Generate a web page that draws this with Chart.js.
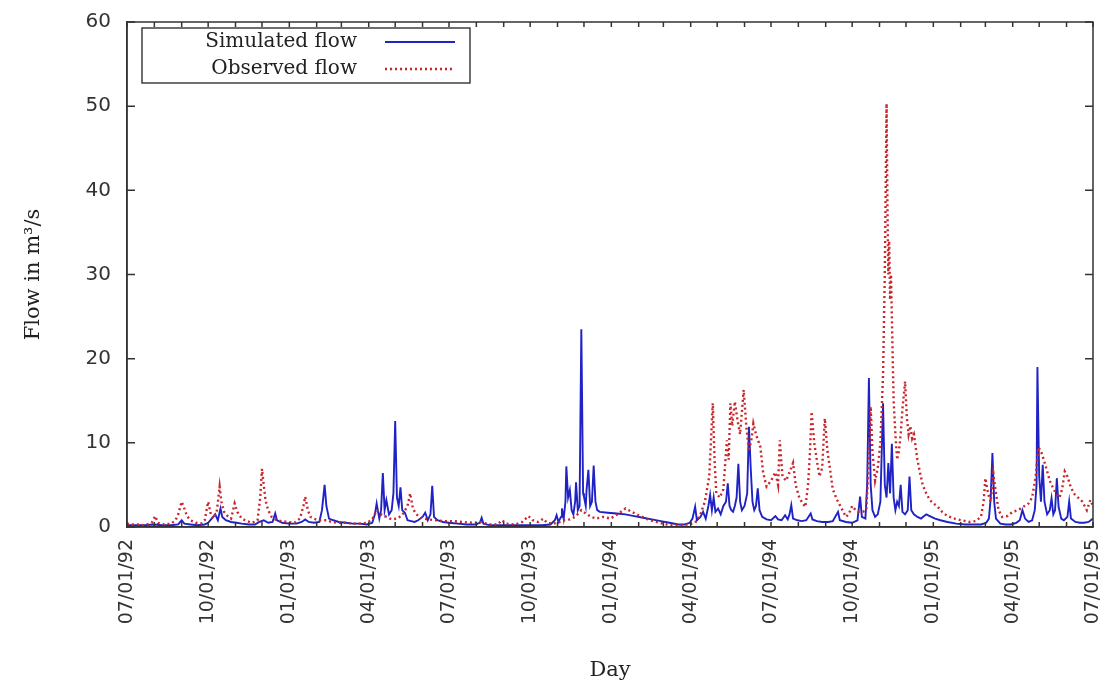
<!DOCTYPE html>
<html>
<head>
<meta charset="utf-8">
<script src="https://cdn.jsdelivr.net/npm/chart.js@4.4.1/dist/chart.umd.min.js"></script>
<style>
  html, body { margin: 0; padding: 0; background: #fff; }
</style>
</head>
<body>
<canvas id="flowChart" width="1101" height="684"></canvas>
<script>
// Quarter tick labels on the day axis
const tickLabels = ["07/01/92", "10/01/92", "01/01/93", "04/01/93", "07/01/93", "10/01/93", "01/01/94",
                    "04/01/94", "07/01/94", "10/01/94", "01/01/95", "04/01/95", "07/01/95"];

// Simulated flow (m3/s), day index counted from 07/01/92
const simDays = [
  0, 10, 20, 30, 40, 50, 58, 62, 65, 72, 80, 88, 92, 96, 100, 103, 106, 108, 112, 118,
  124, 130, 138, 145, 150, 155, 160, 165, 168, 170, 176, 184, 192, 198, 202, 206, 212, 218, 221, 224,
  226, 229, 234, 240, 248, 256, 264, 272, 278, 281, 283, 286, 288, 290, 292, 294, 297, 300, 302, 304,
  306, 308, 310, 312, 315, 318, 322, 326, 330, 335, 338, 341, 344, 346, 348, 352, 358, 365, 375, 385,
  395, 400, 402, 404, 412, 425, 440, 455, 470, 480, 485, 487, 489, 492, 493, 495, 497, 498, 500, 502,
  504, 506, 508, 509, 511, 513, 515, 517, 518, 520, 521, 523, 525, 527, 529, 531, 533, 536, 545, 555,
  565, 575, 585, 595, 605, 615, 625, 632, 638, 641, 644, 646, 650, 653, 656, 659, 661, 663, 665, 667,
  670, 673, 676, 679, 681, 683, 685, 687, 689, 691, 693, 695, 697, 700, 703, 705, 707, 709, 711, 713,
  715, 717, 720, 725, 730, 735, 738, 742, 746, 749, 751, 753, 755, 760, 765, 770, 775, 777, 782, 788,
  795, 800, 806, 808, 815, 822, 828, 831, 833, 837, 839, 841, 843, 845, 848, 851, 854, 857, 859, 861,
  863, 865, 867, 869, 871, 873, 875, 877, 879, 882, 885, 887, 889, 892, 896, 900, 906, 910, 916, 922,
  930, 940, 950, 960, 968, 974, 977, 979, 981, 983, 985, 990, 996, 1002, 1008, 1012, 1015, 1018, 1022, 1026,
  1029, 1031, 1032, 1034, 1036, 1038, 1040, 1043, 1046, 1048, 1050, 1052, 1054, 1056, 1059, 1062, 1066, 1068, 1070, 1075,
  1080, 1085, 1090, 1095
];
const simFlow = [
  0.2, 0.2, 0.2, 0.3, 0.2, 0.2, 0.3, 0.8, 0.4, 0.3, 0.2, 0.3, 0.5, 1.0, 1.5, 0.8, 2.2, 1.2, 0.8, 0.6,
  0.5, 0.4, 0.3, 0.3, 0.6, 0.8, 0.5, 0.6, 1.6, 0.8, 0.5, 0.4, 0.4, 0.6, 0.9, 0.6, 0.5, 0.6, 2.0, 5.0,
  2.5, 1.0, 0.8, 0.6, 0.5, 0.4, 0.4, 0.3, 0.5, 1.5, 2.8, 1.0, 2.0, 6.4, 2.0, 3.2, 1.5, 2.0, 4.0, 12.6,
  3.5, 2.5, 4.7, 2.0, 1.7, 0.8, 0.7, 0.6, 0.8, 1.2, 1.7, 0.8, 1.5, 4.9, 1.2, 0.8, 0.6, 0.5, 0.4, 0.3,
  0.3, 0.5, 1.1, 0.4, 0.2, 0.2, 0.2, 0.2, 0.2, 0.3, 0.8, 1.4, 0.6, 1.2, 2.2, 1.0, 3.0, 7.2, 3.5, 4.4,
  2.0, 1.5, 3.0, 5.3, 2.0, 2.5, 23.5, 4.0, 3.6, 2.5, 4.5, 6.8, 2.5, 3.0, 7.3, 3.0, 2.0, 1.8, 1.7, 1.6,
  1.5, 1.3, 1.1, 0.9, 0.7, 0.5, 0.3, 0.3, 0.5, 1.0, 2.4, 0.8, 1.2, 1.8, 1.0, 2.5, 3.8, 2.0, 3.5, 1.8,
  2.2, 1.5, 2.5, 3.0, 5.2, 2.5, 2.0, 1.8, 2.5, 3.5, 7.5, 3.0, 2.0, 2.5, 4.0, 11.9, 7.0, 3.0, 2.0, 2.5,
  4.6, 2.0, 1.2, 0.9, 0.8, 1.3, 0.9, 0.8, 1.4, 0.9, 1.5, 2.6, 1.0, 0.8, 0.7, 0.8, 1.6, 0.9, 0.7, 0.6,
  0.6, 0.7, 1.8, 0.8, 0.6, 0.5, 0.8, 3.6, 1.2, 1.0, 5.0, 17.7, 5.0, 2.0, 1.2, 1.5, 3.0, 14.7, 5.0, 3.5,
  7.6, 4.0, 9.9, 3.5, 2.0, 3.0, 2.5, 5.0, 1.8, 1.5, 2.0, 6.0, 2.0, 1.5, 1.2, 1.0, 1.5, 1.3, 1.0, 0.8,
  0.6, 0.4, 0.3, 0.3, 0.3, 0.5, 1.0, 3.4, 8.8, 3.0, 1.0, 0.4, 0.3, 0.3, 0.5, 0.8, 2.0, 1.0, 0.6, 0.8,
  2.0, 5.0, 19.0, 6.0, 3.0, 7.4, 3.0, 1.5, 2.0, 3.4, 1.5, 2.0, 5.8, 2.4, 1.0, 0.8, 1.2, 3.0, 1.0, 0.6,
  0.5, 0.5, 0.6, 1.0
];

// Observed flow (m3/s)
const obsDays = [
  0, 5, 12, 20, 28, 32, 35, 42, 50, 55, 58, 62, 65, 68, 72, 78, 84, 88, 92, 95,
  98, 102, 105, 107, 110, 114, 118, 122, 125, 130, 136, 142, 148, 151, 153, 155, 157, 160, 164, 168,
  175, 182, 190, 196, 200, 202, 205, 208, 214, 220, 226, 232, 240, 248, 256, 264, 272, 278, 283, 288,
  294, 300, 306, 312, 318, 321, 324, 328, 335, 342, 350, 360, 370, 380, 392, 402, 410, 420, 425, 430,
  440, 448, 455, 460, 466, 472, 476, 482, 488, 495, 502, 508, 515, 520, 526, 532, 540, 548, 556, 565,
  572, 580, 588, 596, 604, 612, 620, 628, 636, 644, 650, 655, 660, 664, 666, 668, 672, 676, 680, 682,
  684, 686, 689, 692, 695, 699, 702, 705, 708, 710, 713, 718, 721, 725, 730, 735, 738, 740, 743, 747,
  751, 755, 758, 762, 766, 769, 772, 774, 776, 779, 782, 785, 788, 791, 794, 797, 800, 805, 810, 815,
  818, 822, 826, 830, 834, 838, 841, 843, 845, 848, 851, 854, 857, 859, 861, 862, 863, 864, 865, 866,
  867, 868, 869, 871, 873, 875, 877, 879, 882, 884, 886, 888, 890, 892, 894, 896, 899, 902, 906, 910,
  914, 918, 924, 930, 938, 946, 955, 962, 968, 971, 973, 976, 979, 982, 985, 988, 992, 998, 1004, 1010,
  1016, 1022, 1026, 1030, 1033, 1036, 1038, 1042, 1046, 1049, 1053, 1057, 1060, 1063, 1066, 1069, 1073, 1078, 1083, 1088,
  1092, 1095
];
const obsFlow = [
  0.4, 0.3, 0.3, 0.2, 0.5, 1.3, 0.5, 0.3, 0.4, 0.8, 1.5, 3.0, 2.2, 1.3, 0.8, 0.5, 0.4, 0.8, 3.0, 1.5,
  1.0, 2.0, 4.8, 3.0, 1.8, 1.3, 1.0, 2.8, 1.8, 1.0, 0.7, 0.5, 0.8, 3.5, 6.9, 5.0, 3.2, 2.0, 1.2, 0.9,
  0.7, 0.6, 0.5, 1.0, 2.5, 3.6, 2.0, 1.2, 0.9, 0.8, 0.8, 0.6, 0.5, 0.5, 0.4, 0.4, 0.5, 0.9, 2.0, 1.5,
  1.2, 0.9, 1.0, 1.4, 2.5, 4.0, 2.2, 1.5, 1.0, 0.9, 0.8, 0.7, 0.7, 0.6, 0.5, 0.6, 0.3, 0.3, 0.8, 0.4,
  0.3, 0.6, 1.3, 0.8, 0.6, 1.0, 0.5, 0.4, 0.5, 0.8, 0.9, 1.2, 2.0, 1.6, 1.2, 1.0, 1.2, 1.0, 1.5, 2.2,
  1.8, 1.4, 1.0, 0.7, 0.5, 0.3, 0.2, 0.2, 0.3, 0.5, 1.5, 3.0, 6.0, 14.7, 8.0, 4.0, 3.5, 4.5, 10.3, 8.0,
  14.7, 12.0, 14.9, 12.7, 11.0, 16.3, 12.0, 9.0, 10.5, 12.3, 11.0, 9.5, 6.5, 4.8, 5.5, 6.5, 5.0, 10.3, 6.0, 5.5,
  6.5, 7.6, 5.0, 3.5, 2.8, 2.4, 5.0, 8.5, 13.7, 10.0, 7.9, 6.0, 7.0, 12.9, 9.0, 6.8, 4.5, 3.2, 2.2, 1.2,
  1.5, 2.5, 2.0, 1.8, 1.8, 2.0, 8.0, 14.3, 9.0, 5.5, 7.0, 10.0, 18.0, 30.0, 50.3, 38.0, 30.0, 34.0, 27.0, 30.0,
  25.0, 20.0, 15.0, 11.0, 8.0, 9.0, 11.0, 14.0, 17.3, 13.0, 11.0, 12.0, 10.5, 11.0, 9.5, 8.0, 6.4, 5.0, 4.0, 3.2,
  2.8, 2.5, 1.8, 1.3, 1.0, 0.8, 0.6, 0.7, 1.2, 3.0, 5.8, 4.0, 3.0, 6.4, 4.0, 2.0, 1.2, 1.3, 1.8, 2.0,
  2.4, 2.8, 3.5, 6.0, 9.5, 9.0, 8.4, 7.0, 5.5, 4.8, 4.0, 3.5, 4.5, 6.6, 6.0, 5.0, 4.0, 3.5, 3.0, 2.0,
  3.2, 2.5
];

const SIM_COLOR = "#1f22c4";
const OBS_COLOR = "#c8262a";

// day index of a mm/dd/yy label
const startMs = Date.UTC(1992, 6, 1);
const dayOf = (s) => {
    const [m, d, y] = s.split("/").map(Number);
    return (Date.UTC(1900 + y, m - 1, d) - startMs) / 86400000;
};
const tickDays = tickLabels.map(dayOf);
const lastDay = tickDays[tickDays.length - 1];

// first of every month, for the small inner ticks
const monthDays = [];
for (let yr = 1992; yr <= 1995; yr++) {
    for (let mo = 0; mo < 12; mo++) {
        const t = (Date.UTC(yr, mo, 1) - startMs) / 86400000;
        if (t >= 0 && t <= lastDay) monthDays.push(t);
    }
}

// box frame, inward ticks and the boxed legend
const frameAndLegend = {
    id: "frameAndLegend",
    afterDatasetsDraw(chart) {
        const { ctx, chartArea: a, scales: { x, y } } = chart;
        ctx.save();
        ctx.strokeStyle = "#333";
        ctx.lineWidth = 1.5;
        ctx.strokeRect(a.left, a.top, a.right - a.left, a.bottom - a.top);

        ctx.beginPath();
        y.ticks.forEach(t => {
            const py = y.getPixelForValue(t.value);
            ctx.moveTo(a.left, py); ctx.lineTo(a.left + 8, py);
            ctx.moveTo(a.right, py); ctx.lineTo(a.right - 8, py);
        });
        monthDays.forEach(d => {
            const px = x.getPixelForValue(d);
            ctx.moveTo(px, a.bottom); ctx.lineTo(px, a.bottom - 5);
            ctx.moveTo(px, a.top); ctx.lineTo(px, a.top + 5);
        });
        ctx.stroke();

        // legend
        const lx = a.left + 15, ly = a.top + 6, lw = 328, lh = 55;
        ctx.fillStyle = "#fff";
        ctx.fillRect(lx, ly, lw, lh);
        ctx.strokeStyle = "#222";
        ctx.lineWidth = 1.3;
        ctx.strokeRect(lx, ly, lw, lh);

        ctx.font = "20px 'DejaVu Serif'";
        ctx.fillStyle = "#222";
        ctx.textAlign = "right";
        ctx.textBaseline = "middle";
        chart.data.datasets.forEach((ds, i) => {
            const cy = ly + 14 + i * 27;
            ctx.fillText(ds.label, lx + 215, cy);
            ctx.beginPath();
            ctx.strokeStyle = ds.borderColor;
            ctx.lineWidth = ds.borderWidth;
            ctx.setLineDash(ds.borderDash || []);
            ctx.moveTo(lx + 243, cy);
            ctx.lineTo(lx + 313, cy);
            ctx.stroke();
        });
        ctx.restore();
    }
};

new Chart(document.getElementById("flowChart"), {
    type: "line",
    data: {
        datasets: [
            {
                label: "Simulated flow",
                data: simDays.map((d, i) => ({ x: d, y: simFlow[i] })),
                borderColor: SIM_COLOR,
                borderWidth: 1.9,
                pointRadius: 0,
                tension: 0,
                order: 1
            },
            {
                label: "Observed flow",
                data: obsDays.map((d, i) => ({ x: d, y: obsFlow[i] })),
                borderColor: OBS_COLOR,
                borderWidth: 2.4,
                borderDash: [2, 3],
                pointRadius: 0,
                tension: 0,
                order: 0
            }
        ]
    },
    options: {
        responsive: false,
        animation: false,
        layout: { padding: { top: 22, right: 8, left: 0, bottom: 0 } },
        plugins: { legend: { display: false }, tooltip: { enabled: false } },
        scales: {
            x: {
                type: "linear",
                min: 0,
                max: lastDay,
                afterBuildTicks: s => { s.ticks = tickDays.map(v => ({ value: v })); },
                afterFit: s => { s.height = 157; s.paddingLeft = 0; s.paddingRight = 0; },
                ticks: {
                    autoSkip: false,
                    maxRotation: 90,
                    minRotation: 90,
                    padding: 12,
                    color: "#333",
                    font: { family: "DejaVu Sans", size: 19 },
                    callback: (v, i) => tickLabels[i]
                },
                grid: { drawOnChartArea: false, drawTicks: false },
                border: { color: "#333", width: 1.5 },
                title: {
                    display: true,
                    text: "Day",
                    color: "#222",
                    font: { family: "DejaVu Serif", size: 21 },
                    padding: { top: 0, bottom: 1 }
                }
            },
            y: {
                min: 0,
                max: 60,
                afterFit: s => { s.width = 127; s.paddingTop = 0; s.paddingBottom = 0; },
                ticks: {
                    stepSize: 10,
                    padding: 16,
                    color: "#333",
                    font: { family: "DejaVu Sans", size: 20 }
                },
                grid: { drawOnChartArea: false, drawTicks: false },
                border: { color: "#333", width: 1.5 },
                title: {
                    display: true,
                    text: "Flow in m³/s",
                    color: "#222",
                    font: { family: "DejaVu Serif", size: 21 },
                    padding: { top: 21, bottom: 0 }
                }
            }
        }
    },
    plugins: [frameAndLegend]
});
</script>
</body>
</html>
